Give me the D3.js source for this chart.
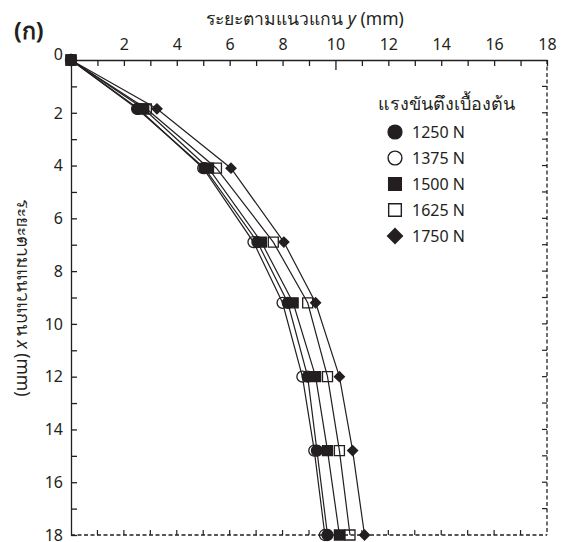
<!DOCTYPE html>
<html>
<head>
<meta charset="utf-8">
<script src="https://cdn.jsdelivr.net/npm/d3@7"></script>
<style>
  body { margin: 0; background: #fff; }
  svg text { font-family: "Noto Sans", "Open Sans", "DejaVu Sans", sans-serif; fill: #231f20; }
</style>
</head>
<body>
<div id="chart"></div>
<script>
// distance along x (depth, vertical axis) where readings were taken
var depth = [0, 1.85, 4.1, 6.9, 9.2, 12, 14.8, 18]

// distance along y for each initial tension
var s1250 = [0, 2.5, 5.05, 7.05, 8.2, 8.95, 9.3, 9.7]
var s1375 = [0, 2.55, 5.0, 6.9, 8.0, 8.75, 9.2, 9.6]
var s1500 = [0, 2.75, 5.2, 7.2, 8.4, 9.25, 9.7, 10.15]
var s1625 = [0, 2.85, 5.5, 7.65, 8.95, 9.7, 10.15, 10.55]
var s1750 = [0, 3.25, 6.05, 8.05, 9.25, 10.15, 10.65, 11.1]

var seriesNames = ['1250 N', '1375 N', '1500 N', '1625 N', '1750 N']
var seriesValues = [s1250, s1375, s1500, s1625, s1750]
var tickValues = [2, 4, 6, 8, 10, 12, 14, 16, 18]

var width = 566
var height = 542
// plot edges (window.top is reserved, so own names)
var pLeft = 71, pRight = 547, pTop = 60, pBottom = 535
var ink = '#231f20'

var svg = d3.select('#chart')
  .append('svg')
  .attr('width', width)
  .attr('height', height)

var x = d3.scaleLinear().domain([0, 18]).range([pLeft, pRight])
var y = d3.scaleLinear().domain([0, 18]).range([pTop, pBottom])

var fmt = function(d) { return tickValues.indexOf(d) >= 0 ? d : '' }

// marker shapes
var shapes = [
  { type: d3.symbolCircle, fill: ink, rot: 0 },
  { type: d3.symbolCircle, fill: 'none', rot: 0 },
  { type: d3.symbolSquare, fill: ink, rot: 0 },
  { type: d3.symbolSquare, fill: 'none', rot: 0 },
  { type: d3.symbolSquare, fill: ink, rot: 45 }
]
var plotSizes = [95, 95, 100, 100, 50]
var legendSizes = [150, 150, 160, 160, 110]

// dashed right and bottom frame
svg.append('line')
  .attr('x1', pRight).attr('x2', pRight).attr('y1', pTop).attr('y2', pBottom)
  .attr('stroke', ink).attr('stroke-width', 1.3).attr('stroke-dasharray', '4,2.5')
svg.append('line')
  .attr('x1', pLeft).attr('x2', pRight).attr('y1', pBottom).attr('y2', pBottom)
  .attr('stroke', ink).attr('stroke-width', 1.3).attr('stroke-dasharray', '4,2.5')

svg.append('g').selectAll('line')
  .data(d3.range(1, 18))
  .enter().append('line')
  .attr('x1', pRight).attr('x2', pRight - 5)
  .attr('y1', function(d) { return y(d) }).attr('y2', function(d) { return y(d) })
  .attr('stroke', ink).attr('stroke-width', 1.2)
svg.append('g').selectAll('line')
  .data(d3.range(1, 18))
  .enter().append('line')
  .attr('y1', pBottom).attr('y2', pBottom - 5)
  .attr('x1', function(d) { return x(d) }).attr('x2', function(d) { return x(d) })
  .attr('stroke', ink).attr('stroke-width', 1.2)

// top axis
var topAxis = svg.append('g')
  .attr('transform', 'translate(0,' + pTop + ')')
  .call(d3.axisTop(x).tickValues(d3.range(0, 19)).tickFormat(fmt)
    .tickSizeInner(-6).tickSizeOuter(0).tickPadding(10))
topAxis.selectAll('.tick line')
  .attr('y2', function(d) { return d === 10 ? 10 : 6 })

// left axis
var leftAxis = svg.append('g')
  .attr('transform', 'translate(' + pLeft + ',0)')
  .call(d3.axisLeft(y).tickValues(d3.range(0, 19)).tickFormat(fmt)
    .tickSizeInner(-6).tickSizeOuter(0).tickPadding(8))

svg.selectAll('.domain, .tick line').attr('stroke', ink).attr('stroke-width', 1.3)
svg.selectAll('.tick text').style('font-size', '16px').attr('fill', ink)
leftAxis.selectAll('.tick text').attr('dy', '0.33em')

svg.append('text')
  .attr('x', pLeft - 8).attr('y', pTop)
  .attr('text-anchor', 'end')
  .style('font-size', '16px')
  .text('0')

// lines
var line = d3.line()
  .x(function(d) { return x(d) })
  .y(function(d, i) { return y(depth[i]) })

svg.append('g').selectAll('path')
  .data(seriesValues)
  .enter().append('path')
  .attr('d', line)
  .attr('fill', 'none')
  .attr('stroke', ink)
  .attr('stroke-width', 1.2)

// markers
seriesValues.forEach(function(vals, si) {
  var sh = shapes[si]
  svg.append('g').selectAll('path')
    .data(vals)
    .enter().append('path')
    .attr('d', d3.symbol().type(sh.type).size(plotSizes[si]))
    .attr('transform', function(d, i) {
      return 'translate(' + x(d) + ',' + y(depth[i]) + ') rotate(' + sh.rot + ')'
    })
    .attr('fill', sh.fill)
    .attr('stroke', ink)
    .attr('stroke-width', 1.3)
})

// legend
var legend = svg.append('g')
legend.append('text')
  .attr('x', 378).attr('y', 110)
  .style('font-size', '18px')
  .text('แรงขันตึงเบื้องต้น')

seriesNames.forEach(function(name, si) {
  var sh = shapes[si]
  var ly = 132 + si * 26
  legend.append('path')
    .attr('d', d3.symbol().type(sh.type).size(legendSizes[si]))
    .attr('transform', 'translate(395,' + ly + ') rotate(' + sh.rot + ')')
    .attr('fill', sh.fill)
    .attr('stroke', ink)
    .attr('stroke-width', 1.4)
  legend.append('text')
    .attr('x', 412).attr('y', ly)
    .attr('dy', '0.36em')
    .style('font-size', '16px')
    .text(name)
})

// titles
var tTop = svg.append('text')
  .attr('x', (pLeft + pRight) / 2 - 4).attr('y', 25)
  .attr('text-anchor', 'middle')
  .style('font-size', '17.5px')
tTop.append('tspan').text('ระยะตามแนวแกน ')
tTop.append('tspan').style('font-style', 'italic').text('y')
tTop.append('tspan').text(' (mm)')

var tLeft = svg.append('text')
  .attr('transform', 'translate(17,' + (pTop + pBottom) / 2 + ') rotate(90)')
  .attr('text-anchor', 'middle')
  .style('font-size', '17.5px')
tLeft.append('tspan').text('ระยะตามแนวแกน ')
tLeft.append('tspan').style('font-style', 'italic').text('x')
tLeft.append('tspan').text(' (mm)')

svg.append('text')
  .attr('x', 14).attr('y', 39)
  .style('font-size', '23px')
  .style('font-weight', 'bold')
  .text('(ก)')
</script>
</body>
</html>
